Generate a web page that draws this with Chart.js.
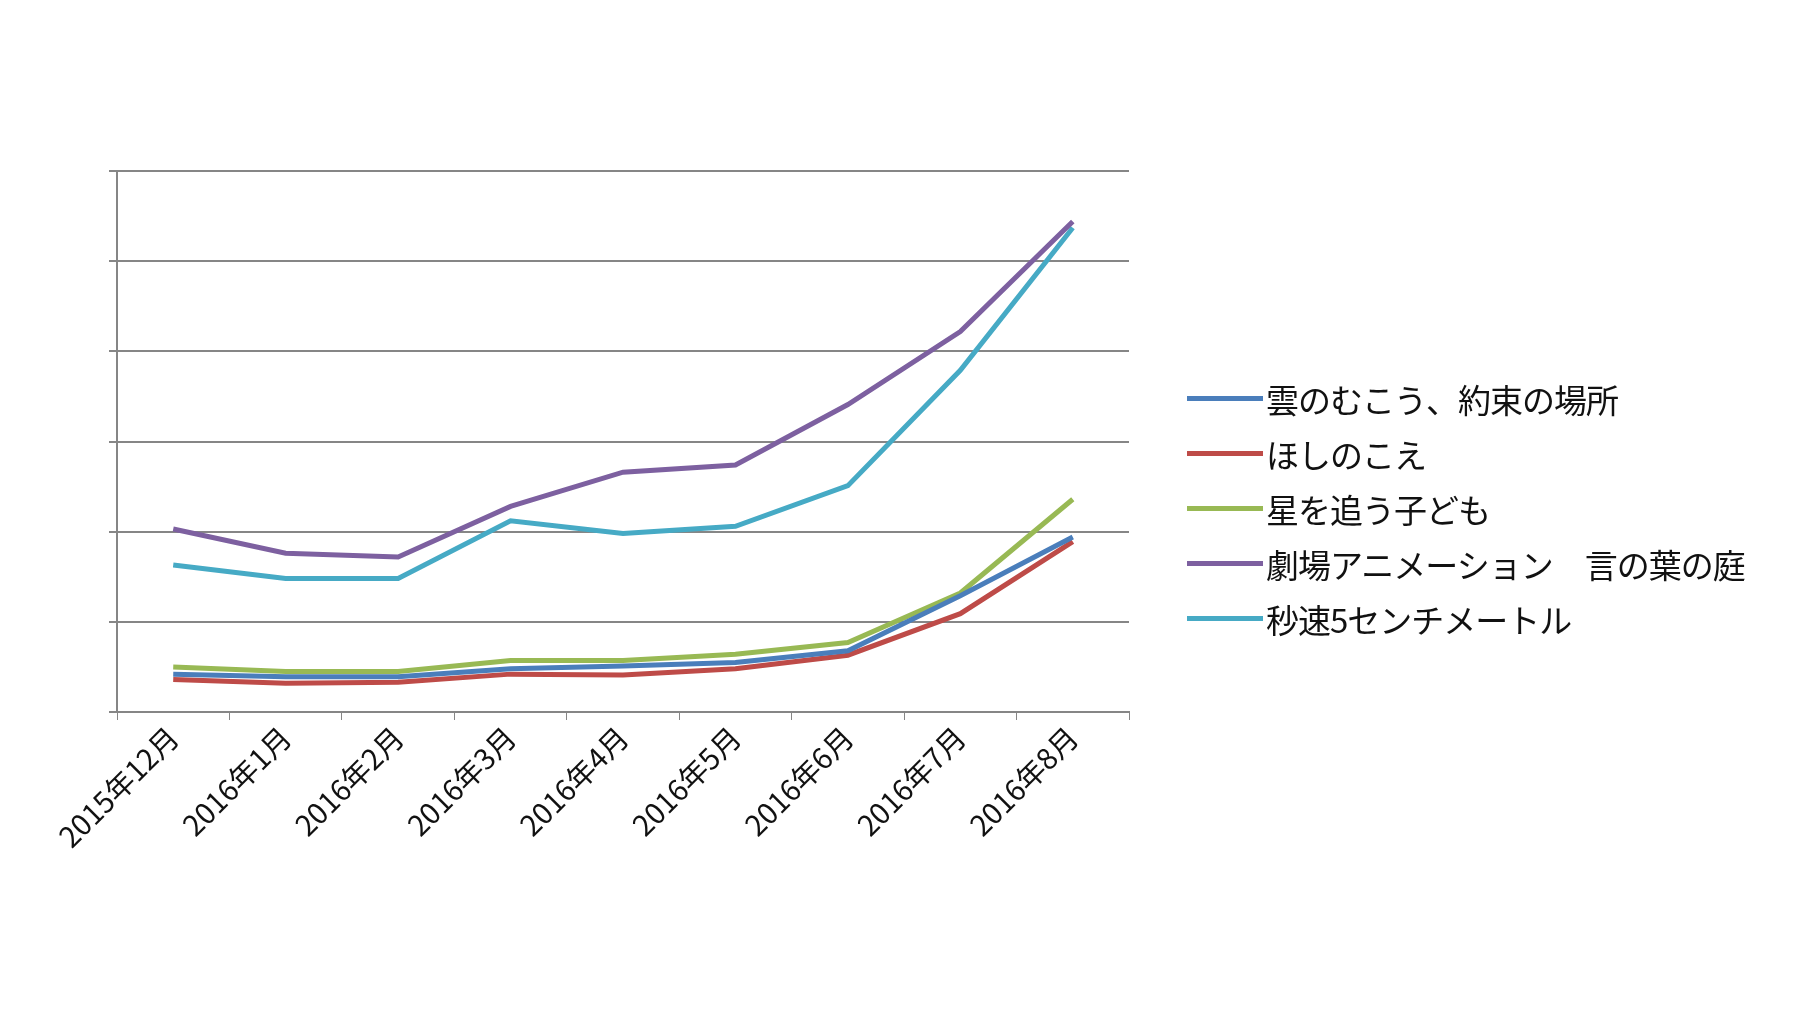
<!DOCTYPE html>
<html><head><meta charset="utf-8">
<script src="https://cdn.jsdelivr.net/npm/chart.js@4"></script>
<style>
body{margin:0;background:#fff;width:1807px;height:1018px;overflow:hidden;position:relative;font-family:"Noto Sans CJK JP",sans-serif}
#lg{position:absolute;left:1187px;top:371px}
.it{height:55px;display:flex;align-items:center;font-size:33px;color:#111;letter-spacing:-1px}
.it span{display:inline-block;width:76px;height:5px;margin-right:3px}
</style></head><body>
<canvas id="c" width="1807" height="1018"></canvas>
<div id="lg"></div>
<script>
const categories=["2015年12月","2016年1月","2016年2月","2016年3月","2016年4月","2016年5月","2016年6月","2016年7月","2016年8月"];
const seriesNames=["雲のむこう、約束の場所","ほしのこえ","星を追う子ども","劇場アニメーション　言の葉の庭","秒速5センチメートル"];
const kumo=[0.42,0.39,0.39,0.48,0.51,0.55,0.68,1.29,1.94];
const hoshi=[0.36,0.32,0.33,0.42,0.41,0.48,0.63,1.09,1.89];
const hoshiwo=[0.50,0.45,0.45,0.57,0.57,0.64,0.77,1.32,2.36];
const kotonoha=[2.03,1.76,1.72,2.28,2.66,2.74,3.41,4.22,5.44];
const byousoku=[1.63,1.48,1.48,2.12,1.98,2.06,2.51,3.79,5.37];
const colors=["#4a7ebb","#be4b48","#98b954","#7d60a0","#46aac5"];
const vals=[kumo,hoshi,hoshiwo,kotonoha,byousoku];
const lg=document.getElementById('lg');
seriesNames.forEach((n,i)=>{const d=document.createElement('div');d.className='it';d.innerHTML='<span style="background:'+colors[i]+'"></span>'+n;lg.appendChild(d);});
new Chart(document.getElementById('c'),{type:'line',
data:{labels:categories,datasets:seriesNames.map((n,i)=>({label:n,data:vals[i],borderColor:colors[i],borderWidth:5,pointRadius:0,tension:0}))},
options:{responsive:false,animation:false,plugins:{legend:{display:false},tooltip:{enabled:false}},
layout:{padding:{left:107,top:171,right:678,bottom:0}},
scales:{
x:{offset:true,afterFit:s=>{s.height=306;},grid:{offset:true,drawOnChartArea:false,tickLength:8,color:'#868686'},border:{color:'#868686',width:2},
ticks:{maxRotation:45,minRotation:45,color:'#111',font:{family:'Noto Sans CJK JP',size:29},padding:0}},
y:{min:0,max:6,afterFit:s=>{s.width=10;},ticks:{display:false,stepSize:1},grid:{color:'#868686',lineWidth:2,tickLength:8},border:{color:'#868686',width:2}}
}}});
</script></body></html>
